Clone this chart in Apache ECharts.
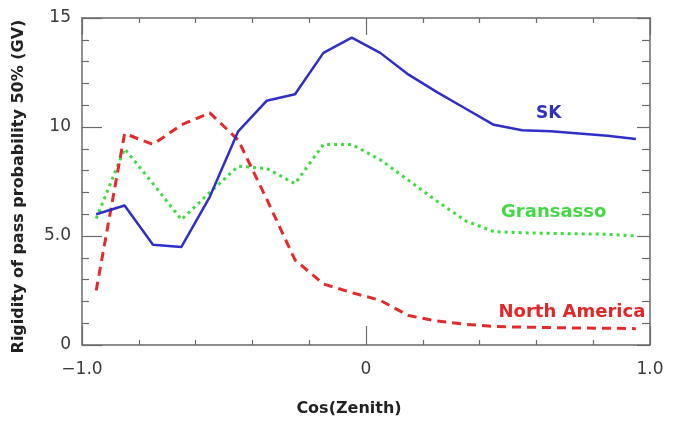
<!DOCTYPE html>
<html>
<head>
<meta charset="utf-8">
<script src="https://cdn.jsdelivr.net/npm/echarts@6/dist/echarts.min.js"></script>
<style>
  html, body { margin: 0; padding: 0; background: #ffffff; }
  #chart { width: 675px; height: 423px; }
</style>
</head>
<body>
<div id="chart"></div>
<script>
// cos(zenith) sample points
const cosZenith = [-0.95, -0.85, -0.75, -0.65, -0.55, -0.45, -0.35, -0.25, -0.15, -0.05,
                   0.05, 0.15, 0.25, 0.35, 0.45, 0.55, 0.65, 0.75, 0.85, 0.95];

// rigidity of 50% pass probability (GV) at each site
const skRigidity = [6.0, 6.4, 4.6, 4.5, 6.8, 9.8, 11.2, 11.5, 13.4, 14.1,
                    13.4, 12.4, 11.6, 10.85, 10.1, 9.85, 9.8, 9.7, 9.6, 9.45];
const gransassoRigidity = [5.8, 9.0, 7.4, 5.75, 7.0, 8.2, 8.1, 7.4, 9.2, 9.2,
                           8.5, 7.55, 6.6, 5.7, 5.2, 5.15, 5.12, 5.1, 5.08, 5.0];
const northAmericaRigidity = [2.5, 9.7, 9.2, 10.1, 10.65, 9.4, 6.7, 3.9, 2.8, 2.4,
                              2.05, 1.35, 1.1, 0.95, 0.85, 0.82, 0.8, 0.78, 0.77, 0.75];

// in-plot site labels: [name, cosZenith, rigidity]
const siteLabels = [
  ['SK', 0.643, 10.6],
  ['Gransasso', 0.661, 6.1],
  ['North America', 0.725, 1.5]
];

const xTickLabels = { '-1': '\u22121.0', '0': '0', '1': '1.0' };
const yTickLabels = { '0': '0', '5': '5.0', '10': '10', '15': '15' };

const colors = { sk: '#2f2fc8', gran: '#3fdc3f', na: '#e42a2a' };
const frameColor = '#6a6a6a';
const fontFamily = '"DejaVu Sans", "Liberation Sans", sans-serif';

function pairs(ys) { return cosZenith.map((x, i) => [x, ys[i]]); }

function siteMark(idx, color, size) {
  const s = siteLabels[idx];
  return {
    symbol: 'circle', symbolSize: 0, silent: true,
    label: {
      show: true, position: 'inside', formatter: s[0],
      color: color, fontFamily: fontFamily, fontWeight: 'bold', fontSize: size
    },
    data: [{ coord: [s[1], s[2]] }]
  };
}

const baseX = {
  type: 'value', min: -1, max: 1, interval: 1,
  axisLine: { show: true, onZero: false, lineStyle: { color: frameColor, width: 1.5 } },
  splitLine: { show: false },
  minorTick: { show: true, splitNumber: 5, length: 5, lineStyle: { color: frameColor, width: 1.2 } },
  minorSplitLine: { show: false }
};
const baseY = {
  type: 'value', min: 0, max: 15, interval: 5,
  axisLine: { show: true, onZero: false, lineStyle: { color: frameColor, width: 1.5 } },
  splitLine: { show: false },
  minorTick: { show: true, splitNumber: 5, length: 7, lineStyle: { color: frameColor, width: 1.2 } },
  minorSplitLine: { show: false }
};

const chart = echarts.init(document.getElementById('chart'), null, { renderer: 'canvas' });
chart.setOption({
  backgroundColor: '#ffffff',
  animation: false,
  grid: { left: 82, right: 25, top: 18, bottom: 78 },
  xAxis: [
    Object.assign({}, baseX, {
      position: 'bottom',
      axisTick: { show: true, inside: true, length: 19, lineStyle: { color: frameColor, width: 1.2 } },
      axisLabel: {
        show: true, margin: 16, color: '#3a3a3a', fontFamily: fontFamily, fontSize: 17,
        formatter: v => xTickLabels[String(v)] || ''
      },
      name: 'Cos(Zenith)', nameLocation: 'middle', nameGap: 56,
      nameTextStyle: {
        color: '#222', fontFamily: fontFamily, fontWeight: 'bold', fontSize: 16,
        padding: [0, 34, 0, 0]
      }
    }),
    Object.assign({}, baseX, {
      position: 'top',
      axisTick: { show: true, inside: true, length: 17, lineStyle: { color: frameColor, width: 1.2 } },
      axisLabel: { show: false }
    })
  ],
  yAxis: [
    Object.assign({}, baseY, {
      position: 'left',
      axisTick: { show: true, inside: true, length: 20, lineStyle: { color: frameColor, width: 1.2 } },
      axisLabel: {
        show: true, margin: 11, color: '#3a3a3a', fontFamily: fontFamily, fontSize: 17,
        formatter: v => yTickLabels[String(v)] || ''
      },
      name: 'Rigidity of pass probability 50% (GV)', nameLocation: 'middle', nameGap: 55,
      nameTextStyle: {
        color: '#222', fontFamily: fontFamily, fontWeight: 'bold', fontSize: 16,
        padding: [0, 10, 0, 0]
      }
    }),
    Object.assign({}, baseY, {
      position: 'right',
      axisTick: { show: true, inside: true, length: 13, lineStyle: { color: frameColor, width: 1.2 } },
      minorTick: { show: true, splitNumber: 5, length: 8, lineStyle: { color: frameColor, width: 1.2 } },
      axisLabel: { show: false }
    })
  ],
  series: [
    {
      name: 'SK', type: 'line', data: pairs(skRigidity),
      showSymbol: false, symbol: 'none',
      lineStyle: { color: colors.sk, width: 2.5, type: 'solid' },
      markPoint: siteMark(0, '#3030c0', 17),
      z: 3
    },
    {
      name: 'Gransasso', type: 'line', data: pairs(gransassoRigidity),
      showSymbol: false, symbol: 'none',
      lineStyle: { color: colors.gran, width: 3, type: [3, 4] },
      markPoint: siteMark(1, '#44d844', 18),
      z: 2
    },
    {
      name: 'North America', type: 'line', data: pairs(northAmericaRigidity),
      showSymbol: false, symbol: 'none',
      lineStyle: { color: colors.na, width: 3, type: [9, 6] },
      markPoint: siteMark(2, '#e02828', 18),
      z: 2
    }
  ]
});
</script>
</body>
</html>
